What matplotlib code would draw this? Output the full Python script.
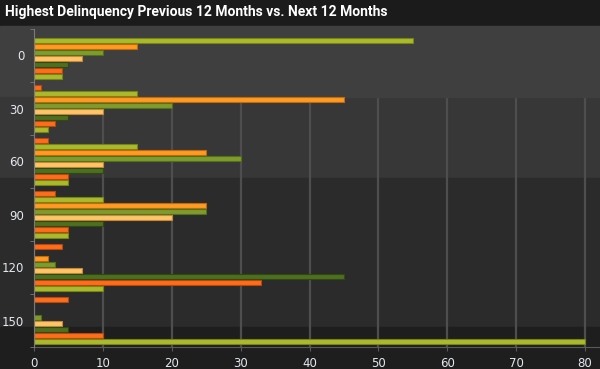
import numpy as np
import matplotlib
matplotlib.use("Agg")
import matplotlib.pyplot as plt
from matplotlib.patches import Rectangle

# categories (delinquency buckets) and the 8 bar series, top to bottom in each group
categories = ["0", "30", "60", "90", "120", "150"]
s1 = [0, 1, 2, 3, 4, 5]
s2 = [55, 15, 15, 10, 0, 0]
s3 = [15, 45, 25, 25, 2, 0]
s4 = [10, 20, 30, 25, 3, 1]
s5 = [7, 10, 10, 20, 7, 4]
s6 = [5, 5, 10, 10, 45, 5]
s7 = [4, 3, 5, 5, 33, 10]
s8 = [4, 2, 5, 5, 10, 80]
series = [s1, s2, s3, s4, s5, s6, s7, s8]
xticks = [0, 10, 20, 30, 40, 50, 60, 70, 80]

fills = ["#ff6d1c", "#abb92c", "#ff9a22", "#7f9b2e", "#ffc468", "#4d6f1f", "#ff6d1c", "#abb92c"]
edges = ["#b5480c", "#768515", "#bf6a0c", "#52701a", "#c48a3a", "#2f4a10", "#b5480c", "#768515"]

W, H = 600, 369
fig = plt.figure(figsize=(W / 100, H / 100), dpi=100)
fig.patch.set_facecolor("#1e1e1e")

# background bands across the whole figure (pixel rows)
bands = [(0, 26, "#1b1b1b"), (26, 97, "#3f3f3f"), (97, 178, "#373737"),
         (178, 327, "#2b2b2b"), (327, 369, "#1e1e1e")]
for y0, y1, c in bands:
    fig.patches.append(Rectangle((0, 1 - y1 / H), 1, (y1 - y0) / H,
                                 transform=fig.transFigure, color=c, zorder=-10))

ax = fig.add_axes([34 / W, 1 - 347 / H, 566 / W, (347 - 29) / H])
ax.set_facecolor("none")

n = len(series)
slot = 6 / 53
height = 5 / 53
y = np.arange(len(categories))
for k, vals in enumerate(series):
    ax.barh(y + (k - (n - 1) / 2) * slot, vals, height=height,
            color=fills[k], edgecolor=edges[k], linewidth=0.8, zorder=3)

ax.set_xlim(0, 80 * 566 / 551)
ax.set_ylim(len(categories) - 0.5, -0.5)

ax.set_xticks(xticks)
ax.set_yticks(y)
ax.set_yticklabels(categories)
ax.set_yticks(np.arange(len(categories) + 1) - 0.5, minor=True)

ax.grid(axis="x", color="#4e4e4e", linewidth=1.6, zorder=0.5)
ax.set_axisbelow(True)
# top band hides the grid lines
ax.add_patch(Rectangle((0, 1 - 97 / H), 1, 71 / H, transform=fig.transFigure,
                       color="#3f3f3f", zorder=1))

for s in ["top", "right"]:
    ax.spines[s].set_visible(False)
ax.spines["left"].set_color("#7a7a7a")
ax.spines["bottom"].set_color("#5a5a5a")
ax.spines["left"].set_zorder(4)

ax.tick_params(axis="y", which="major", length=0, pad=7, labelcolor="#e4e8ee", labelsize=8.5)
ax.tick_params(axis="y", which="minor", length=3, color="#7a7a7a")
ax.tick_params(axis="x", length=3, color="#5a5a5a", labelcolor="#e4e8ee", labelsize=8.5, pad=4)

fig.text(5 / W, 1 - 12 / H, "Highest Delinquency Previous 12 Months vs. Next 12 Months",
         color="white", fontsize=10, fontweight="bold", family=["Roboto", "DejaVu Sans"],
         va="center", ha="left")

fig.savefig("out.png", dpi=100, facecolor=fig.get_facecolor())
